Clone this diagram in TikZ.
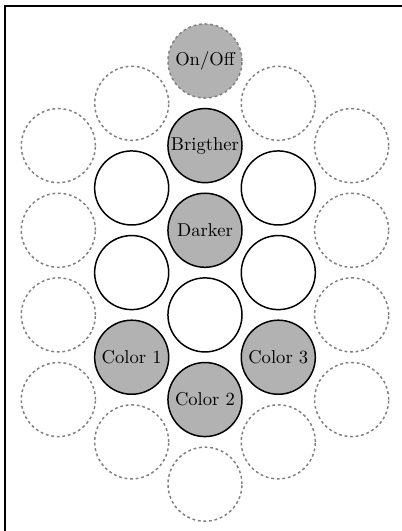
\documentclass[tikz,border=0pt]{standalone}
\usetikzlibrary{positioning}

\begin{document}
\begin{tikzpicture}[
      btn/.style={circle, draw=black, thick, minimum size=1.4cm, inner sep=0pt},
      key/.style={btn, fill=black!30},
      free/.style={circle, draw=black!50, thick, dash pattern=on 1.5pt off 1.5pt,
        minimum size=1.4cm, inner sep=0pt},
      node distance=1.6cm, on grid]
    \useasboundingbox (-3.875,-8.885) rectangle (3.724,1.153);
    % frame (cut at right and bottom)
    \draw[line width=1pt] (-3.78,-8.885) |- (3.724,1.04);
    % centre column
    \node[free, fill=black!30] (onoff) at (0,0) {On/Off};
    \node[key, below=of onoff] (bright) {Brigther};
    \node[key, below=of bright] (dark) {Darker};
    \node[btn, below=of dark] (mid) {};
    \node[key, below=of mid] (col2) {Color 2};
    \node[free, below=of col2] (bot) {};
    % inner left column
    \node[free, below left=0.8cm and 1.386cm of onoff] (l1) {};
    \node[btn, below=of l1] (l3) {};
    \node[btn, below=of l3] (l5) {};
    \node[key, below=of l5] (col1) {Color 1};
    \node[free, below=of col1] (l9) {};
    % inner right column
    \node[free, below right=0.8cm and 1.386cm of onoff] (r1) {};
    \node[btn, below=of r1] (r3) {};
    \node[btn, below=of r3] (r5) {};
    \node[key, below=of r5] (col3) {Color 3};
    \node[free, below=of col3] (r9) {};
    % outer columns
    \node[free, below left=0.8cm and 1.386cm of l1] (ll2) {};
    \node[free, below=of ll2] (ll4) {};
    \node[free, below=of ll4] (ll6) {};
    \node[free, below=of ll6] (ll8) {};
    \node[free, below right=0.8cm and 1.386cm of r1] (rr2) {};
    \node[free, below=of rr2] (rr4) {};
    \node[free, below=of rr4] (rr6) {};
    \node[free, below=of rr6] (rr8) {};
  \end{tikzpicture}
\end{document}
